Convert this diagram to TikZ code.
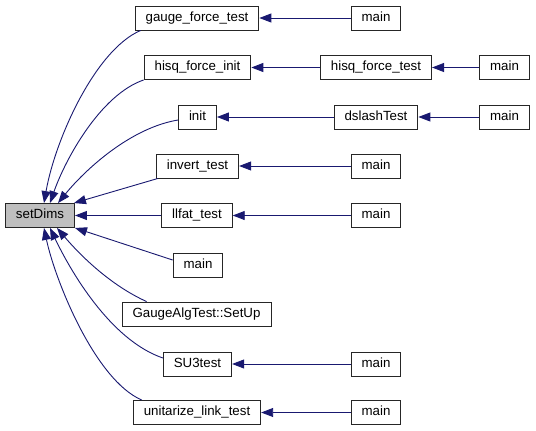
\documentclass[tikz,border=0pt]{standalone}
\usepackage{fontspec}
\setmainfont{Liberation Sans}
\usetikzlibrary{arrows.meta}
\definecolor{callblue}{HTML}{191970}
\definecolor{selfgray}{HTML}{BFBFBF}

\begin{document}
\begin{tikzpicture}[x=1pt, y=-1pt,
    fn/.style={draw=black!85, line width=0.9pt, fill=white, minimum height=24pt,
        inner xsep=10.5pt, inner ysep=0pt, text height=9.6pt, text depth=2.8pt,
        font=\fontsize{13.3}{16}\selectfont},
    calls/.style={draw=callblue, line width=0.9pt, -{Triangle[length=12pt,width=9pt]}}]
    \useasboundingbox (0,0) rectangle (536,431);

    % Function of interest
    \node[fn, fill=selfgray] (setdims) at (40,215.5) {setDims};

    % Direct callers
    \node[fn] (gft)   at (197,18)    {gauge\_force\_test};
    \node[fn] (hfi)   at (197.5,67.5) {hisq\_force\_init};
    \node[fn] (init)  at (197.5,117) {init};
    \node[fn] (invt)  at (197.5,166) {invert\_test};
    \node[fn] (llfat) at (197,215.5) {llfat\_test};
    \node[fn] (mainc) at (198,265)   {main};
    \node[fn] (galg)  at (196.5,314) {GaugeAlgTest::SetUp};
    \node[fn] (su3)   at (197.5,364) {SU3test};
    \node[fn] (unit)  at (197,412.5) {unitarize\_link\_test};

    % Second level
    \node[fn] (hft)   at (376,67.5)  {hisq\_force\_test};
    \node[fn] (dsl)   at (376,117)   {dslashTest};

    % Entry points
    \node[fn] (maina) at (376,18)    {main};
    \node[fn] (mainb) at (504.5,67.5) {main};
    \node[fn] (maind) at (504.5,117) {main};
    \node[fn] (maine) at (376,166)   {main};
    \node[fn] (mainf) at (376,215.5) {main};
    \node[fn] (maing) at (376,364)   {main};
    \node[fn] (mainh) at (376,412.5) {main};

    % Calls into setDims
    \draw[calls] ([xshift=6pt]gft.south west) .. controls (95,50) and (55,140) .. ([xshift=4pt]setdims.north);
    \draw[calls] ([xshift=0pt]hfi.south west) .. controls (100,95) and (65,160) .. ([xshift=10pt]setdims.north);
    \draw[calls] ([yshift=-3pt]init.west) .. controls (130,128) and (85,170) .. ([xshift=18pt]setdims.north);
    \draw[calls] ([xshift=2pt]invt.south west) -- ([xshift=-1pt]setdims.north east);
    \draw[calls] (llfat) -- (setdims);
    \draw[calls] ([yshift=5pt]mainc.west) -- (setdims.south east);
    \draw[calls] ([xshift=25pt]galg.north west) .. controls (110,285) and (80,255) .. ([xshift=17pt]setdims.south);
    \draw[calls] ([yshift=6pt]su3.west) .. controls (110,340) and (70,270) .. ([xshift=10pt]setdims.south);
    \draw[calls] ([xshift=9pt]unit.north west) .. controls (95,380) and (55,280) .. ([xshift=4pt]setdims.south);

    % Further up the call chain
    \foreach \from/\to in {maina/gft, hft/hfi, mainb/hft, dsl/init, maind/dsl,
                           maine/invt, mainf/llfat, maing/su3, mainh/unit} {
        \draw[calls] (\from) -- (\to);
    }
\end{tikzpicture}
\end{document}
